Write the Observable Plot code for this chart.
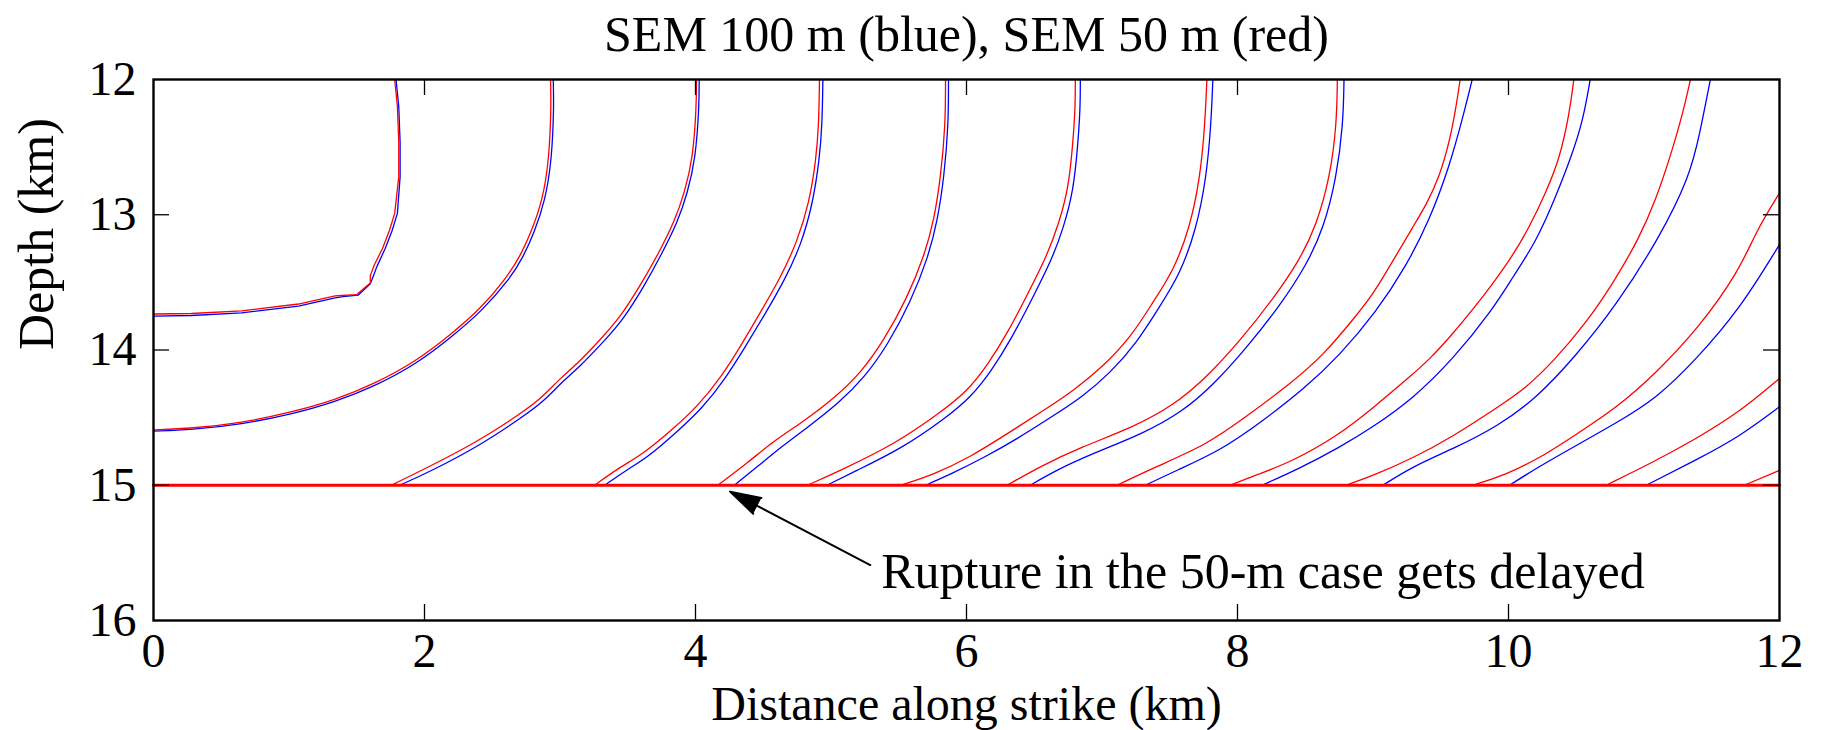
<!DOCTYPE html>
<html>
<head>
<meta charset="utf-8">
<script src="https://cdn.jsdelivr.net/npm/d3@7"></script>
<script src="https://cdn.jsdelivr.net/npm/@observablehq/plot@0.6"></script>
<style>
  html, body { margin: 0; padding: 0; background: #fff; overflow: hidden; }
</style>
</head>
<body>
<div id="chart"></div>
<script>
// Rupture-front contours on the fault plane: [distance along strike (km), depth (km)]
// SEM 100 m resolution (blue)
const sem100_c1 = [[1.79,12.0],[1.81,12.2],[1.82,12.46],[1.82,12.72],[1.80,12.99],[1.76,13.12],[1.71,13.25],[1.65,13.38],[1.62,13.46],[1.60,13.51],[1.51,13.595],[1.40,13.605],[1.34,13.615],[1.07,13.675],[0.65,13.725],[0.28,13.745],[0,13.75]];
const sem100_c2 = [[2.95,12.0],[2.955,12.2],[2.94,12.59],[2.89,12.9],[2.81,13.13],[2.73,13.31],[2.63,13.475],[2.42,13.715],[2.21,13.895],[1.94,14.105],[1.64,14.265],[1.34,14.385],[1.02,14.475],[0.65,14.55],[0.28,14.59],[0,14.60]];
const sem100_c3 = [[4.027,12.0],[4.027,12.2],[4.0,12.59],[3.94,12.84],[3.87,13.05],[3.74,13.31],[3.62,13.53],[3.47,13.77],[3.33,13.93],[3.13,14.14],[3.03,14.22],[2.88,14.38],[2.73,14.49],[2.42,14.70],[2.04,14.90],[1.816,15.0]];
const sem100_c4 = [[4.94,12.0],[4.935,12.33],[4.915,12.59],[4.865,12.92],[4.78,13.22],[4.66,13.48],[4.51,13.74],[4.365,13.98],[4.215,14.22],[4.05,14.43],[3.88,14.59],[3.64,14.80],[3.50,14.88],[3.33,15.0]];
const sem100_c5 = [[5.867,12.0],[5.867,12.33],[5.835,12.72],[5.785,13.05],[5.715,13.32],[5.59,13.64],[5.42,13.96],[5.25,14.20],[5.06,14.39],[4.83,14.57],[4.64,14.71],[4.46,14.86],[4.287,15.0]];
const sem100_c6 = [[6.84,12.0],[6.84,12.2],[6.823,12.47],[6.79,12.82],[6.715,13.10],[6.63,13.33],[6.49,13.61],[6.33,13.92],[6.18,14.16],[6.03,14.35],[5.85,14.50],[5.52,14.73],[5.17,14.90],[4.97,15.0]];
const sem100_c7 = [[7.818,12.0],[7.805,12.33],[7.77,12.73],[7.695,13.11],[7.575,13.44],[7.425,13.68],[7.255,13.95],[7.06,14.17],[6.85,14.35],[6.65,14.48],[6.37,14.66],[6.12,14.80],[5.90,14.91],[5.698,15.0]];
const sem100_c8 = [[8.786,12.0],[8.78,12.33],[8.73,12.73],[8.635,13.10],[8.51,13.37],[8.315,13.67],[8.07,13.98],[7.83,14.25],[7.59,14.46],[7.30,14.62],[6.92,14.77],[6.66,14.89],[6.47,15.0]];
const sem100_c9 = [[9.732,12.0],[9.663,12.28],[9.565,12.64],[9.417,13.04],[9.245,13.38],[9.023,13.72],[8.753,14.04],[8.50,14.28],[8.18,14.53],[7.88,14.74],[7.55,14.89],[7.32,15.0]];
const sem100_c10 = [[10.603,12.0],[10.55,12.30],[10.475,12.54],[10.352,12.86],[10.204,13.20],[10.032,13.46],[9.884,13.70],[9.589,14.07],[9.294,14.36],[8.999,14.57],[8.753,14.72],[8.45,14.88],[8.18,15.0]];
const sem100_c11 = [[11.49,12.0],[11.41,12.41],[11.336,12.72],[11.114,13.17],[10.795,13.67],[10.5,14.04],[10.204,14.36],[9.909,14.57],[9.614,14.72],[9.294,14.86],[9.073,15.0]];
const sem100_c12 = [[12.0,13.22],[11.705,13.70],[11.385,14.07],[11.09,14.36],[10.795,14.54],[10.475,14.72],[10.229,14.86],[10.007,15.0]];
const sem100_c13 = [[12.0,14.42],[11.705,14.64],[11.41,14.80],[11.016,15.0]];

// SEM 50 m resolution (red)
const sem50_c1 = [[1.78,12.0],[1.80,12.2],[1.81,12.46],[1.81,12.72],[1.78,12.99],[1.74,13.12],[1.69,13.25],[1.63,13.37],[1.60,13.45],[1.60,13.505],[1.50,13.59],[1.39,13.597],[1.34,13.60],[1.07,13.66],[0.65,13.71],[0.28,13.73],[0,13.734]];
const sem50_c2 = [[2.93,12.0],[2.935,12.2],[2.92,12.59],[2.87,12.9],[2.79,13.12],[2.71,13.30],[2.61,13.46],[2.41,13.70],[2.20,13.88],[1.93,14.09],[1.63,14.25],[1.34,14.37],[1.02,14.46],[0.65,14.54],[0.28,14.58],[0,14.59]];
const sem50_c3 = [[4.007,12.0],[4.007,12.2],[3.98,12.59],[3.92,12.83],[3.85,13.04],[3.72,13.30],[3.60,13.51],[3.45,13.75],[3.31,13.91],[3.11,14.12],[3.01,14.20],[2.86,14.36],[2.71,14.47],[2.39,14.68],[2.0,14.88],[1.754,15.0]];
const sem50_c4 = [[4.915,12.0],[4.91,12.33],[4.89,12.59],[4.84,12.91],[4.75,13.20],[4.63,13.46],[4.48,13.72],[4.34,13.96],[4.19,14.20],[4.02,14.41],[3.85,14.57],[3.60,14.78],[3.45,14.86],[3.256,15.0]];
const sem50_c5 = [[5.845,12.0],[5.845,12.33],[5.81,12.72],[5.76,13.04],[5.69,13.30],[5.56,13.62],[5.39,13.93],[5.22,14.17],[5.02,14.36],[4.78,14.54],[4.58,14.67],[4.39,14.83],[4.164,15.0]];
const sem50_c6 = [[6.803,12.0],[6.803,12.2],[6.786,12.46],[6.754,12.80],[6.68,13.07],[6.595,13.30],[6.46,13.57],[6.30,13.88],[6.15,14.12],[6.0,14.31],[5.81,14.46],[5.465,14.70],[5.07,14.89],[4.827,15.0]];
const sem50_c7 = [[7.774,12.0],[7.76,12.33],[7.725,12.72],[7.65,13.09],[7.53,13.41],[7.38,13.64],[7.21,13.91],[7.01,14.12],[6.79,14.30],[6.595,14.43],[6.30,14.62],[6.03,14.79],[5.76,14.92],[5.514,15.0]];
const sem50_c8 = [[8.737,12.0],[8.732,12.33],[8.683,12.72],[8.585,13.07],[8.462,13.33],[8.265,13.62],[8.02,13.93],[7.774,14.20],[7.528,14.41],[7.233,14.57],[6.84,14.72],[6.545,14.86],[6.30,15.0]];
const sem50_c9 = [[9.643,12.0],[9.614,12.2],[9.565,12.46],[9.49,12.72],[9.392,12.93],[9.294,13.09],[9.171,13.30],[9.0,13.59],[8.88,13.74],[8.634,14.04],[8.388,14.25],[8.069,14.49],[7.774,14.70],[7.405,14.86],[7.11,15.0]];
const sem50_c10 = [[10.482,12.0],[10.45,12.25],[10.376,12.59],[10.278,12.83],[10.155,13.09],[10.032,13.30],[9.884,13.51],[9.737,13.70],[9.589,13.88],[9.417,14.07],[9.269,14.20],[9.023,14.41],[8.72,14.65],[8.388,14.83],[8.15,14.92],[7.946,15.0]];
const sem50_c11 = [[11.343,12.0],[11.287,12.25],[11.188,12.59],[11.09,12.88],[10.967,13.17],[10.77,13.51],[10.573,13.80],[10.327,14.09],[10.106,14.30],[9.909,14.43],[9.589,14.64],[9.294,14.80],[8.999,14.93],[8.80,15.0]];
const sem50_c12 = [[12.0,12.84],[11.828,13.12],[11.705,13.41],[11.41,13.83],[11.09,14.17],[10.795,14.43],[10.475,14.64],[10.229,14.80],[9.983,14.92],[9.737,15.0]];
const sem50_c13 = [[12.0,14.21],[11.705,14.46],[11.361,14.67],[11.065,14.83],[10.72,15.0]];
const sem50_c14 = [[12.0,14.89],[11.74,15.0]];

// Bottom edge of the rupture zone
const faultBottom = [[0,15],[12,15]];

// Axes
const xTicks = [0, 2, 4, 6, 8, 10, 12];
const depthTicks = [12, 13, 14, 15, 16];
const xInnerTicks = [2, 4, 6, 8, 10];
const depthInnerTicks = [13, 14, 15];

// Text
const title = "SEM 100 m (blue), SEM 50 m (red)";
const xLabel = "Distance along strike (km)";
const yLabel = "Depth (km)";
const note = "Rupture in the 50-m case gets delayed";
const noteAt = [5.37, 15.76];
const arrowTail = [5.29, 15.59];
const arrowTip = [4.255, 15.047];

// The innermost contour keeps its kink, so it is drawn as a plain polyline;
// the others are smoothed with a B-spline.
const blueKinked = [sem100_c1];
const blueSmooth = [sem100_c2, sem100_c3, sem100_c4, sem100_c5, sem100_c6, sem100_c7, sem100_c8, sem100_c9, sem100_c10, sem100_c11, sem100_c12, sem100_c13];
const redKinked = [sem50_c1];
const redSmooth = [sem50_c2, sem50_c3, sem50_c4, sem50_c5, sem50_c6, sem50_c7, sem50_c8, sem50_c9, sem50_c10, sem50_c11, sem50_c12, sem50_c13, sem50_c14];

const toRows = (runs, tag) => runs.flatMap((pts, i) => pts.map(([x, d]) => ({x, d, id: `${tag}${i}`})));

const W = 1823, H = 730;
const mL = 153, mR = 44, mT = 79, mB = 110;
const frameW = W - mL - mR, frameH = H - mT - mB;
const tickLen = 16;
const FONT = "Liberation Serif, Times New Roman, serif";
const BLUE = "#0000ff", RED = "#ff0000";

const chart = Plot.plot({
  width: W,
  height: H,
  marginLeft: mL,
  marginRight: mR,
  marginTop: mT,
  marginBottom: mB,
  style: {fontFamily: FONT, fontSize: "50px", color: "black", background: "white", overflow: "visible"},
  x: {domain: [0, 12]},
  y: {domain: [12, 16], reverse: true},
  marks: [
    Plot.line(toRows(blueKinked, "bk"), {x: "x", y: "d", z: "id", stroke: BLUE, strokeWidth: 1.3}),
    Plot.line(toRows(blueSmooth, "bs"), {x: "x", y: "d", z: "id", stroke: BLUE, strokeWidth: 1.3, curve: "basis"}),
    Plot.line(toRows(redKinked, "rk"), {x: "x", y: "d", z: "id", stroke: RED, strokeWidth: 1.3}),
    Plot.line(toRows(redSmooth, "rs"), {x: "x", y: "d", z: "id", stroke: RED, strokeWidth: 1.3, curve: "basis"}),
    Plot.line(faultBottom, {x: d => d[0], y: d => d[1], stroke: RED, strokeWidth: 3}),
    // inward ticks on all four sides
    Plot.tickX(xInnerTicks, {x: d => d, insetTop: frameH - tickLen, stroke: "black", strokeWidth: 1.3}),
    Plot.tickX(xInnerTicks, {x: d => d, insetBottom: frameH - tickLen, stroke: "black", strokeWidth: 1.3}),
    Plot.tickY(depthInnerTicks, {y: d => d, insetRight: frameW - tickLen, stroke: "black", strokeWidth: 1.3}),
    Plot.tickY(depthInnerTicks, {y: d => d, insetLeft: frameW - tickLen, stroke: "black", strokeWidth: 1.3}),
    Plot.frame({stroke: "black", strokeWidth: 2.4}),
    Plot.axisX({ticks: xTicks, tickSize: 0, tickPadding: 12, fontSize: 48, label: null, tickFormat: d => String(d)}),
    Plot.axisY({ticks: depthTicks, tickSize: 0, tickPadding: 17, fontSize: 48, label: null, tickFormat: d => String(d)}),
    Plot.arrow([0], {
      x1: () => arrowTail[0], y1: () => arrowTail[1],
      x2: () => arrowTip[0], y2: () => arrowTip[1],
      stroke: "black", fill: "black", strokeWidth: 2, headLength: 24, headAngle: 32
    }),
    Plot.text([note], {x: () => noteAt[0], y: () => noteAt[1], text: d => d, textAnchor: "start", lineAnchor: "bottom"}),
    Plot.text([title], {frameAnchor: "top", text: d => d, lineAnchor: "bottom", dy: -29}),
    Plot.text([xLabel], {frameAnchor: "bottom", text: d => d, fontSize: 48, lineAnchor: "bottom", dy: 99.5}),
    Plot.text([yLabel], {frameAnchor: "left", text: d => d, rotate: -90, lineAnchor: "bottom", dx: -101})
  ]
});

document.getElementById("chart").appendChild(chart);
</script>
</body>
</html>
